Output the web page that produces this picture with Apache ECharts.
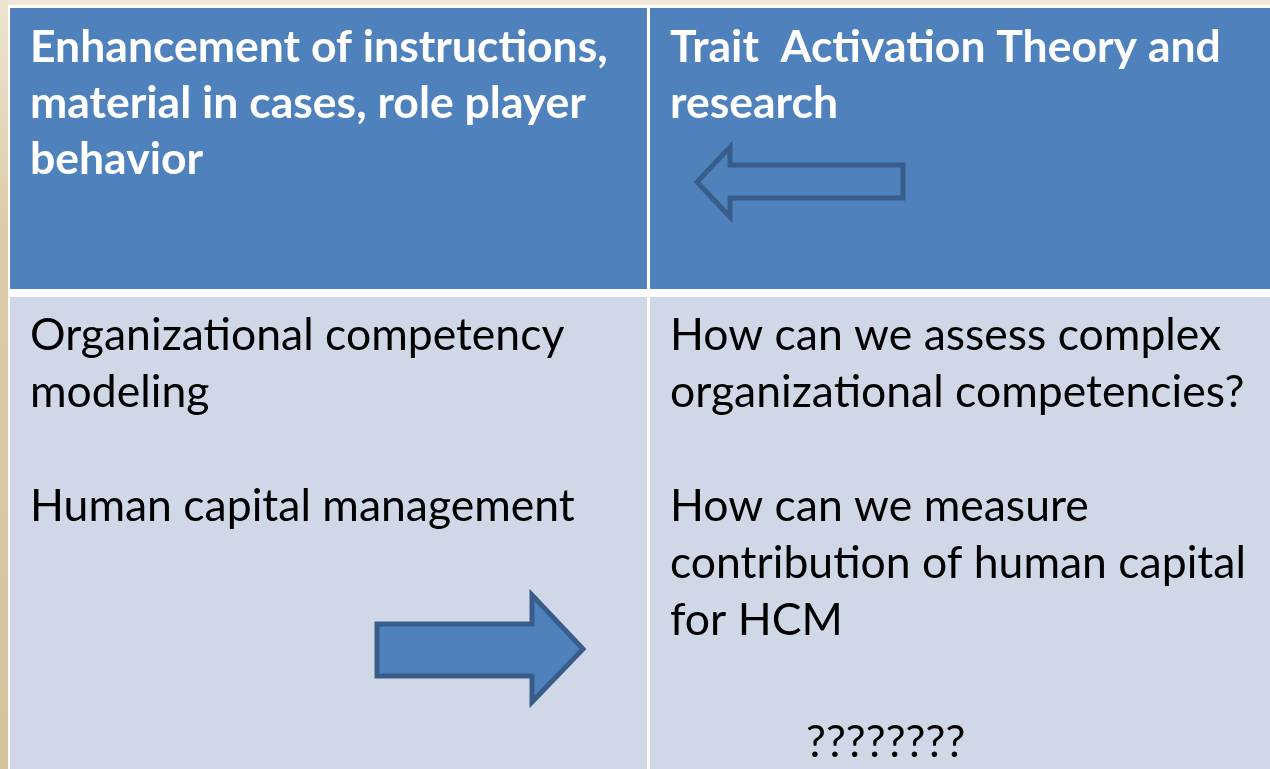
<!DOCTYPE html>
<html><head><meta charset="utf-8">
<script src="https://cdn.jsdelivr.net/npm/echarts@6/dist/echarts.min.js"></script>
<style>html,body{margin:0;padding:0;background:#efe7d9;}#c{width:1270px;height:769px;}</style>
</head><body><div id="c"></div>
<script>
// Table content
const headerTexts = [
  "Enhancement of instructions,\nmaterial in cases, role player\nbehavior",
  "Trait  Activation Theory and\nresearch"
];
const bodyLeft = ["Organizational competency\nmodeling", "Human capital management"];
const bodyRight = ["How can we assess complex\norganizational competencies?", "How can we measure\ncontribution of human capital\nfor HCM"];
const bodyExtra = "????????";

const chart = echarts.init(document.getElementById('c'), null, {renderer: 'canvas'});
const FONT = 'Lato, "Open Sans", sans-serif';
const HEAD = '#4f81bd', BODY = '#d0d8e8', EDGE = '#385d8a';
const HFS = 44.5, BFS = 44.5;

const cols = [[10, 647], [650, 1270]];
const rows = [[8, 289], [297, 769]];

const g = [];
// backdrop
g.push({type:'rect', shape:{x:0,y:0,width:1270,height:769}, style:{fill:'#efe7d9'}, z:0});
g.push({type:'rect', shape:{x:0,y:0,width:8,height:769}, style:{fill:new echarts.graphic.LinearGradient(0,0,0,1,[{offset:0,color:'#ede3d0'},{offset:0.3,color:'#dccba7'},{offset:1,color:'#d3c39d'}])}, z:0});
g.push({type:'rect', shape:{x:8,y:5,width:1262,height:764}, style:{fill:'#ffffff'}, z:1});
// cells
cols.forEach(function(c){
  g.push({type:'rect', shape:{x:c[0],y:rows[0][0],width:c[1]-c[0],height:rows[0][1]-rows[0][0]}, style:{fill:HEAD}, z:2});
  g.push({type:'rect', shape:{x:c[0],y:rows[1][0],width:c[1]-c[0],height:rows[1][1]-rows[1][0]}, style:{fill:BODY}, z:2});
});
// header text
headerTexts.forEach(function(t,i){
  g.push({type:'text', x: cols[i][0]+20, y: 20, z:5,
    style:{text:t, fill:'#ffffff', fontFamily:FONT, fontWeight:'bold', fontSize:HFS, lineHeight:56, verticalAlign:'top'}});
});
// body text
const LH = 57;
function bt(txt, x, y){
  g.push({type:'text', x:x, y:y, z:5, style:{text:txt, fill:'#000', fontFamily:FONT, fontSize:BFS, lineHeight:LH, verticalAlign:'top'}});
}
bt(bodyLeft[0], 30, 307);
bt(bodyLeft[1], 30, 307+3*LH);
bt(bodyRight[0], 670, 307);
bt(bodyRight[1], 670, 307+3*LH);
bt(bodyExtra, 806, 307+7*LH+8);
// arrows
g.push({type:'polygon', z:6, shape:{points:[[903,165],[730,165],[730,147],[697,182],[730,217],[730,198],[903,198]]},
  style:{fill:'none', stroke:EDGE, lineWidth:5}});
g.push({type:'polygon', z:6, shape:{points:[[377,624],[532,624],[532,595],[583,649],[532,702],[532,676],[377,676]]},
  style:{fill:HEAD, stroke:EDGE, lineWidth:5}});

chart.setOption({animation:false, graphic:{elements:g}});
</script></body></html>
